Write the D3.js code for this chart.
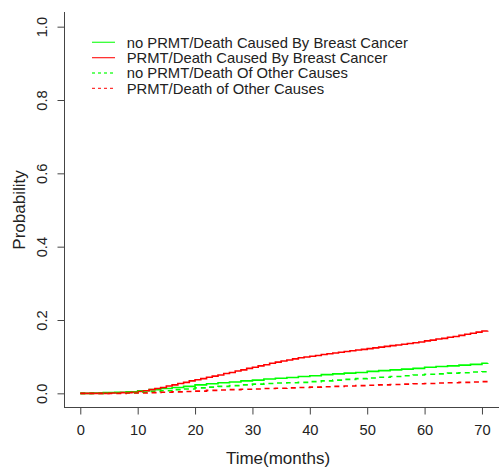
<!DOCTYPE html>
<html>
<head>
<meta charset="utf-8">
<script src="https://cdn.jsdelivr.net/npm/d3@7"></script>
<style>
  html, body { margin: 0; padding: 0; background: #fff; }
  svg { display: block; font-family: "Liberation Sans", Arial, sans-serif; }
</style>
</head>
<body>
<svg id="chart" width="499" height="469"></svg>
<script>
// ---- data ----
const months = [0,2,4,6,8,10,12,14,16,18,20,22,24,26,28,30,32,34,36,38,40,42,44,46,48,50,52,54,56,58,60,62,64,66,68,70,71];
const monthsFine = [0,1,2,3,4,5,6,7,8,9,10,11,12,13,14,15,16,17,18,19,20,21,22,23,24,25,26,27,28,29,30,31,32,33,34,35,36,37,38,39,40,41,42,43,44,45,46,47,48,49,50,51,52,53,54,55,56,57,58,59,60,61,62,63,64,65,66,67,68,69,70,71];
const noPrmtBreast = [0,0.001,0.002,0.003,0.004,0.007,0.010,0.013,0.016,0.019,0.023,0.026,0.029,0.031,0.034,0.036,0.039,0.041,0.043,0.046,0.048,0.051,0.053,0.055,0.057,0.060,0.062,0.064,0.066,0.068,0.071,0.073,0.075,0.077,0.079,0.082,0.083];
const prmtBreast = [0,0,0,0,0,0.001,0.001,0.002,0.002,0.003,0.005,0.007,0.010,0.013,0.016,0.020,0.023,0.027,0.030,0.034,0.037,0.040,0.044,0.047,0.050,0.054,0.057,0.061,0.064,0.068,0.071,0.075,0.078,0.082,0.085,0.088,0.091,0.094,0.097,0.099,0.101,0.103,0.106,0.108,0.110,0.112,0.114,0.116,0.118,0.120,0.122,0.124,0.126,0.128,0.130,0.132,0.134,0.136,0.138,0.140,0.143,0.145,0.148,0.150,0.153,0.155,0.158,0.161,0.164,0.167,0.170,0.171];
const noPrmtOther = [0,0,0.001,0.001,0.002,0.003,0.005,0.007,0.010,0.012,0.015,0.017,0.019,0.021,0.023,0.025,0.027,0.028,0.029,0.030,0.032,0.034,0.036,0.038,0.040,0.042,0.044,0.046,0.048,0.050,0.052,0.053,0.055,0.056,0.058,0.059,0.060];
const prmtOther = [0,0,0,0,0.001,0.001,0.002,0.003,0.004,0.005,0.006,0.008,0.009,0.010,0.011,0.012,0.013,0.014,0.015,0.016,0.017,0.018,0.019,0.020,0.021,0.022,0.023,0.024,0.025,0.026,0.027,0.028,0.029,0.030,0.031,0.032,0.032];
const seriesNames = ["no PRMT/Death Caused By Breast Cancer","PRMT/Death Caused By Breast Cancer","no PRMT/Death Of Other Causes","PRMT/Death of Other Causes"];
const seriesColors = ["#00ff00","#ff0000","#00ff00","#ff0000"];
const seriesDashed = [false,false,true,true];
const xTicks = [0,10,20,30,40,50,60,70];
const yTicks = [0.0,0.2,0.4,0.6,0.8,1.0];
const xTitle = "Time(months)";
const yTitle = "Probability";

const seriesValues = [noPrmtBreast, prmtBreast, noPrmtOther, prmtOther];
const seriesTimes = [months, monthsFine, months, months];

// ---- layout ----
const svg = d3.select("#chart");
const plotLeft = 64, plotRight = 504, plotTop = 12, plotBottom = 408;
const x = d3.scaleLinear().domain([-2.84, 73.84]).range([plotLeft, plotRight]);
const y = d3.scaleLinear().domain([-0.04, 1.04]).range([plotBottom, plotTop]);

const axisColor = "#444";
const fs = 14.7;

// curves
const line = d3.line().x(d => x(d[0])).y(d => y(d[1])).curve(d3.curveStepAfter);
seriesValues.forEach((vals, i) => {
  const t = seriesTimes[i];
  svg.append("path")
    .datum(t.map((m, j) => [m, vals[j]]))
    .attr("d", line)
    .attr("fill", "none")
    .attr("stroke", seriesColors[i])
    .attr("stroke-width", 1.6)
    .attr("stroke-dasharray", seriesDashed[i] ? "5,4" : null);
});

// x axis
const xAxis = d3.axisBottom(x).tickValues(xTicks).tickSize(7).tickPadding(8).tickFormat(d3.format("d"));
const gx = svg.append("g").attr("transform", `translate(0,${plotBottom - 0.5})`).call(xAxis);
gx.select(".domain").attr("d", `M${plotLeft},0H${plotRight}`).attr("stroke", axisColor);
gx.selectAll(".tick line").attr("stroke", axisColor);
gx.selectAll(".tick text").attr("font-size", fs).attr("fill", "#222")
  .attr("font-family", "Liberation Sans, Arial, sans-serif")
  .attr("dy", null)
  .attr("y", 27.5);

// y axis
const yAxis = d3.axisLeft(y).tickValues(yTicks).tickSize(7).tickFormat(d3.format(".1f"));
const gy = svg.append("g").attr("transform", `translate(${plotLeft + 0.5},0)`).call(yAxis);
gy.select(".domain").attr("d", `M0,${plotTop}V${plotBottom}`).attr("stroke", axisColor);
gy.selectAll(".tick line").attr("stroke", axisColor);
gy.selectAll(".tick text").attr("font-size", fs).attr("fill", "#222")
  .attr("font-family", "Liberation Sans, Arial, sans-serif")
  .attr("dy", null)
  .attr("text-anchor", "middle")
  .attr("transform", "translate(-18,0) rotate(-90)")
  .attr("x", 0).attr("y", 0);

// titles
svg.append("text").attr("x", 278).attr("y", 463.5).attr("text-anchor", "middle")
  .attr("font-size", 17).attr("fill", "#222").text(xTitle);
svg.append("text").attr("transform", `translate(25,210) rotate(-90)`).attr("text-anchor", "middle")
  .attr("font-size", 17).attr("fill", "#222").text(yTitle);

// legend
const legendY0 = 42.3, legendDy = 15.35;
seriesNames.forEach((name, i) => {
  const ly = legendY0 + i * legendDy;
  svg.append("line").attr("x1", 92).attr("x2", 115).attr("y1", ly).attr("y2", ly)
    .attr("stroke", seriesColors[i]).attr("stroke-width", 1.3)
    .attr("stroke-opacity", 0.8)
    .attr("stroke-dasharray", seriesDashed[i] ? "3,3" : null);
  svg.append("text").attr("x", 126.7).attr("y", ly + 5.2)
    .attr("font-size", 14.8).attr("fill", "#222").text(name);
});
</script>
</body>
</html>
